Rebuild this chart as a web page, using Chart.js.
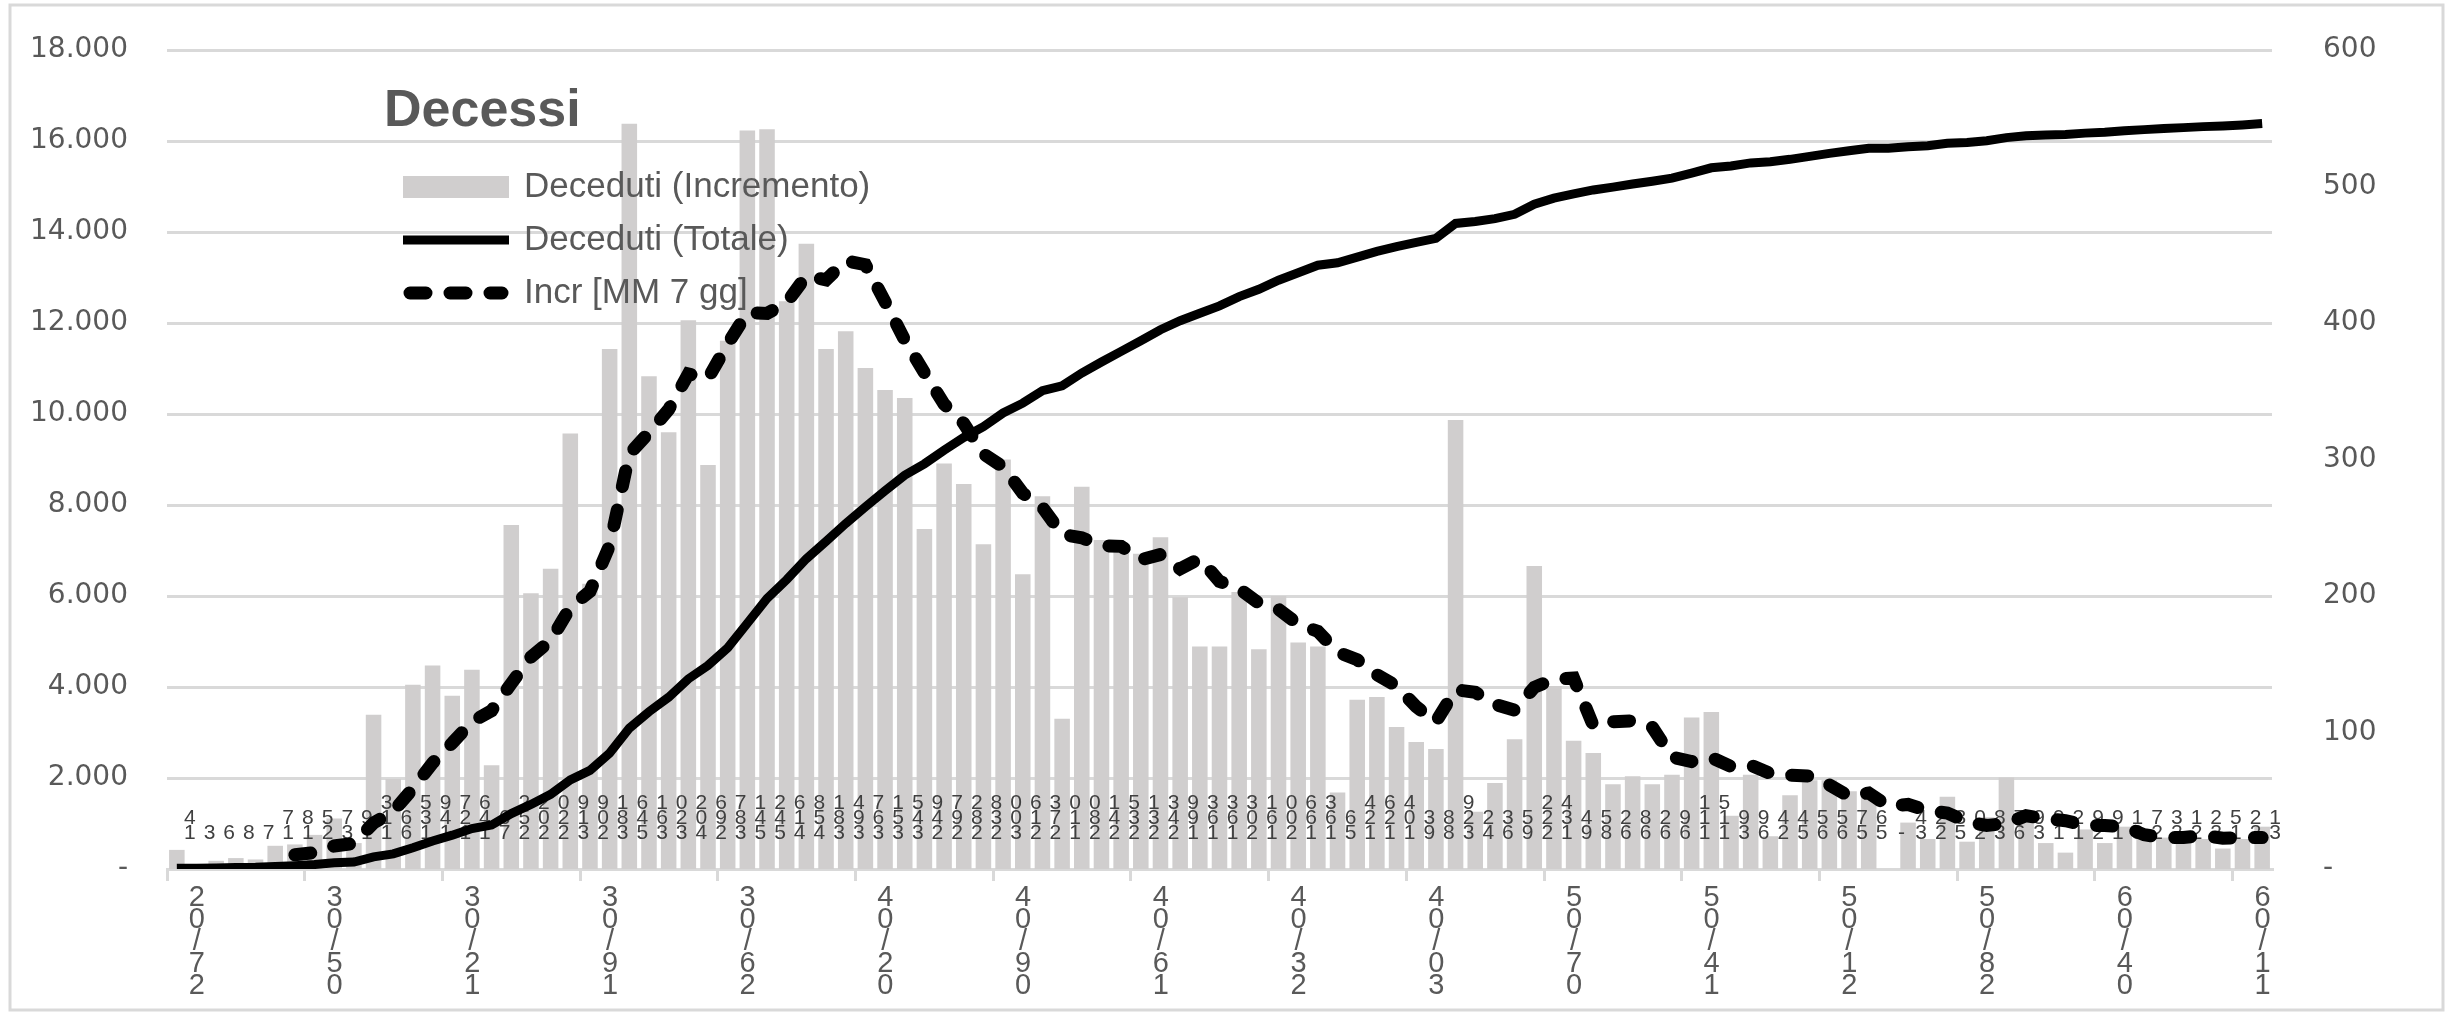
<!DOCTYPE html>
<html>
<head>
<meta charset="utf-8">
<script src="https://cdn.jsdelivr.net/npm/chart.js@4.4.0/dist/chart.umd.min.js"></script>
<style>
html, body { margin: 0; padding: 0; background: #fff; }
canvas { display: block; }
</style>
</head>
<body>
<canvas id="chart" width="2447" height="1014"></canvas>
<script>
// date (dd/mm) of each day in the chart
const giorni = [
	'27/02','28/02','29/02',
	'01/03','02/03','03/03','04/03','05/03','06/03','07/03','08/03','09/03','10/03',
	'11/03','12/03','13/03','14/03','15/03','16/03','17/03','18/03','19/03','20/03',
	'21/03','22/03','23/03','24/03','25/03','26/03','27/03','28/03','29/03','30/03','31/03',
	'01/04','02/04','03/04','04/04','05/04','06/04','07/04','08/04','09/04','10/04',
	'11/04','12/04','13/04','14/04','15/04','16/04','17/04','18/04','19/04','20/04',
	'21/04','22/04','23/04','24/04','25/04','26/04','27/04','28/04','29/04','30/04',
	'01/05','02/05','03/05','04/05','05/05','06/05','07/05','08/05','09/05','10/05',
	'11/05','12/05','13/05','14/05','15/05','16/05','17/05','18/05','19/05','20/05',
	'21/05','22/05','23/05','24/05','25/05','26/05','27/05','28/05','29/05','30/05','31/05',
	'01/06','02/06','03/06','04/06','05/06','06/06','07/06','08/06','09/06','10/06',
	'11/06','12/06'
];

// Deceduti (Incremento) - right axis
const incremento = [
	14, 3, 6, 8, 7, 17, 18, 25, 37, 19,
	113, 66, 135, 149, 127, 146, 76, 252, 202, 220,
	319, 209, 381, 546, 361, 320, 402, 296, 387, 541,
	542, 416, 458, 381, 394, 367, 351, 345, 249, 297,
	282, 238, 300, 216, 273, 110, 280, 241, 235, 231,
	243, 199, 163, 163, 203, 161, 200, 166, 163, 56,
	124, 126, 104, 93, 88, 329, 42, 63, 95, 222,
	134, 94, 85, 62, 68, 62, 69, 111, 115, 39,
	69, 24, 54, 65, 65, 57, 56, 0, 34, 22,
	53, 20, 38, 67, 39, 19, 12, 29, 19, 31,
	27, 23, 21, 22, 15, 22, 31
];

// Deceduti (Totale) - left axis
const totale = [
	14, 17, 23, 31, 38, 55, 73, 98, 135, 154,
	267, 333, 468, 617, 744, 890, 966, 1218, 1420, 1640,
	1959, 2168, 2549, 3095, 3456, 3776, 4178, 4474, 4861, 5402,
	5944, 6360, 6818, 7199, 7593, 7960, 8311, 8656, 8905, 9202,
	9484, 9722, 10022, 10238, 10511, 10621, 10901, 11142, 11377, 11608,
	11851, 12050, 12213, 12376, 12579, 12740, 12940, 13106, 13269, 13325,
	13449, 13575, 13679, 13772, 13860, 14189, 14231, 14294, 14389, 14611,
	14745, 14839, 14924, 14986, 15054, 15116, 15185, 15296, 15411, 15450,
	15519, 15543, 15597, 15662, 15727, 15784, 15840, 15840, 15874, 15896,
	15949, 15969, 16007, 16074, 16113, 16132, 16144, 16173, 16192, 16223,
	16250, 16273, 16294, 16316, 16331, 16353, 16384
];

// Incr [MM 7 gg] - right axis
const media7 = [
	null, null, null, null, null, null, 10.4, 12.0, 16.9, 18.7,
	33.7, 42.1, 59.0, 77.7, 92.3, 107.9, 116.0, 135.9, 155.3, 167.4,
	191.7, 203.4, 237.0, 304.1, 319.7, 336.6, 362.6, 359.3, 384.7, 407.6,
	407.0, 414.9, 434.6, 431.6, 445.6, 442.7, 415.6, 387.4, 363.6, 340.6,
	326.4, 304.1, 294.6, 275.3, 265.0, 245.1, 242.7, 236.9, 236.4, 226.6,
	230.4, 219.9, 227.4, 210.7, 205.3, 194.7, 190.3, 179.3, 174.1, 158.9,
	153.3, 142.3, 134.1, 118.9, 107.7, 131.4, 129.4, 120.7, 116.3, 133.1,
	139.0, 139.9, 105.0, 107.9, 108.6, 103.9, 82.0, 78.7, 81.7, 75.1,
	76.1, 69.9, 68.7, 68.1, 61.6, 53.3, 55.7, 45.9, 47.3, 42.7,
	41.0, 34.6, 31.9, 33.4, 39.0, 36.9, 35.4, 32.0, 31.9, 30.9,
	25.1, 22.9, 23.1, 24.6, 22.6, 23.0, 23.0
];

const titolo = 'Decessi';
const nomiSerie = ['Deceduti (Incremento)', 'Deceduti (Totale)', 'Incr [MM 7 gg]'];

const GRIGIO = '#d9d9d9';
const TESTO = '#595959';
const BARRE = '#d0cece';
const SANS = "'Liberation Sans', Arial, sans-serif";
const DEJAVU = "'DejaVu Sans', Verdana, sans-serif";

function migliaia(v){
	if (v === 0) return '-';
	return String(v).replace(/\B(?=(\d{3})+(?!\d))/g, '.');
}

// stacked labels under each bar (first digit at the bottom)
const etichetteBarre = {
	id: 'etichetteBarre',
	afterDatasetDraw(chart, args){
		if (args.index !== 0) return;
		const ctx = chart.ctx;
		const base = chart.scales.y1.getPixelForValue(0) - 36;
		ctx.save();
		ctx.font = '21px ' + SANS;
		ctx.fillStyle = '#404040';
		ctx.textAlign = 'center';
		ctx.textBaseline = 'middle';
		args.meta.data.forEach((bar, i) => {
			const v = incremento[i];
			const cifre = v === 0 ? ['-'] : String(v).split('');
			cifre.forEach((c, k) => ctx.fillText(c, bar.x + 13, base - k * 15));
		});
		ctx.restore();
	}
};

// frame, title and legend inside the plot area
const cornice = {
	id: 'cornice',
	afterDraw(chart){
		const ctx = chart.ctx;
		const area = chart.chartArea;
		ctx.save();
		ctx.strokeStyle = GRIGIO;
		ctx.lineWidth = 3;
		ctx.strokeRect(10, 5, chart.width - 14, chart.height - 9);

		const x0 = area.left + 236;
		ctx.fillStyle = TESTO;
		ctx.font = 'bold 52px ' + SANS;
		ctx.textBaseline = 'alphabetic';
		ctx.textAlign = 'left';
		ctx.fillText(titolo, x0 - 19, area.top + 76);

		ctx.font = '35px ' + SANS;
		ctx.textBaseline = 'middle';
		const righe = [area.top + 137, area.top + 190, area.top + 243];
		const ds = chart.data.datasets;
		righe.forEach((y, i) => {
			if (i === 0){
				ctx.fillStyle = ds[0].backgroundColor;
				ctx.fillRect(x0, y - 11, 106, 22);
			} else {
				ctx.beginPath();
				ctx.strokeStyle = ds[i].borderColor;
				ctx.lineWidth = ds[i].borderWidth;
				ctx.lineCap = ds[i].borderCapStyle || 'butt';
				ctx.setLineDash(ds[i].borderDash || []);
				ctx.moveTo(x0 + (i === 2 ? 7 : 0), y);
				ctx.lineTo(x0 + (i === 2 ? 99 : 106), y);
				ctx.stroke();
				ctx.setLineDash([]);
			}
			ctx.fillStyle = TESTO;
			ctx.fillText(nomiSerie[i], x0 + 121, y);
		});
		ctx.restore();
	}
};

// fixed axis box: no extra top/bottom padding from the tick labels
function assiFissi(larghezza){
	return function(s){
		s.width = larghezza;
		s.paddingTop = 0;
		s.paddingBottom = 0;
	};
}

const chart = new Chart(document.getElementById('chart'), {
	data: {
		labels: giorni,
		datasets: [
			{
				type: 'bar',
				label: nomiSerie[0],
				data: incremento,
				backgroundColor: BARRE,
				yAxisID: 'y1',
				categoryPercentage: 1,
				barPercentage: 0.79,
				order: 3
			},
			{
				type: 'line',
				label: nomiSerie[1],
				data: totale,
				borderColor: '#000',
				borderWidth: 9,
				pointRadius: 0,
				tension: 0,
				yAxisID: 'y',
				order: 2
			},
			{
				type: 'line',
				label: nomiSerie[2],
				data: media7,
				borderColor: '#000',
				borderWidth: 13,
				borderDash: [16, 24],
				borderCapStyle: 'round',
				pointRadius: 0,
				tension: 0,
				yAxisID: 'y1',
				order: 1
			}
		]
	},
	options: {
		responsive: false,
		devicePixelRatio: 1,
		animation: false,
		layout: { padding: { top: 50, left: 0, right: 0, bottom: 0 } },
		plugins: {
			legend: { display: false },
			title: { display: false },
			tooltip: { enabled: false }
		},
		scales: {
			x: {
				type: 'category',
				offset: true,
				grid: {
					offset: true,
					drawOnChartArea: false,
					color: (c) => (c.index % 7 === 0 ? GRIGIO : 'rgba(0,0,0,0)'),
					lineWidth: 3,
					tickLength: 12
				},
				border: { color: GRIGIO, width: 3 },
				ticks: {
					autoSkip: false,
					maxRotation: 0,
					minRotation: 0,
					labelOffset: 20,
					padding: 6,
					color: TESTO,
					font: { family: SANS, size: 29, lineHeight: 0.76 },
					callback: function(v, i){
						if (i % 7 !== 0) return '';
						return giorni[i].split('').reverse();
					}
				},
				afterFit(s){ s.height = 145; }
			},
			y: {
				position: 'left',
				min: 0,
				max: 18000,
				grid: { color: GRIGIO, lineWidth: 3, drawTicks: false },
				border: { display: false },
				ticks: {
					stepSize: 2000,
					padding: 39,
					color: TESTO,
					font: { family: DEJAVU, size: 28 },
					callback: (v) => migliaia(v)
				},
				afterFit: assiFissi(167)
			},
			y1: {
				position: 'right',
				min: 0,
				max: 600,
				grid: { display: false, drawTicks: false },
				border: { display: false },
				ticks: {
					stepSize: 100,
					padding: 51,
					color: TESTO,
					font: { family: DEJAVU, size: 28 },
					callback: (v) => migliaia(v)
				},
				afterFit: assiFissi(175)
			}
		}
	},
	plugins: [etichetteBarre, cornice]
});
</script>
</body>
</html>
